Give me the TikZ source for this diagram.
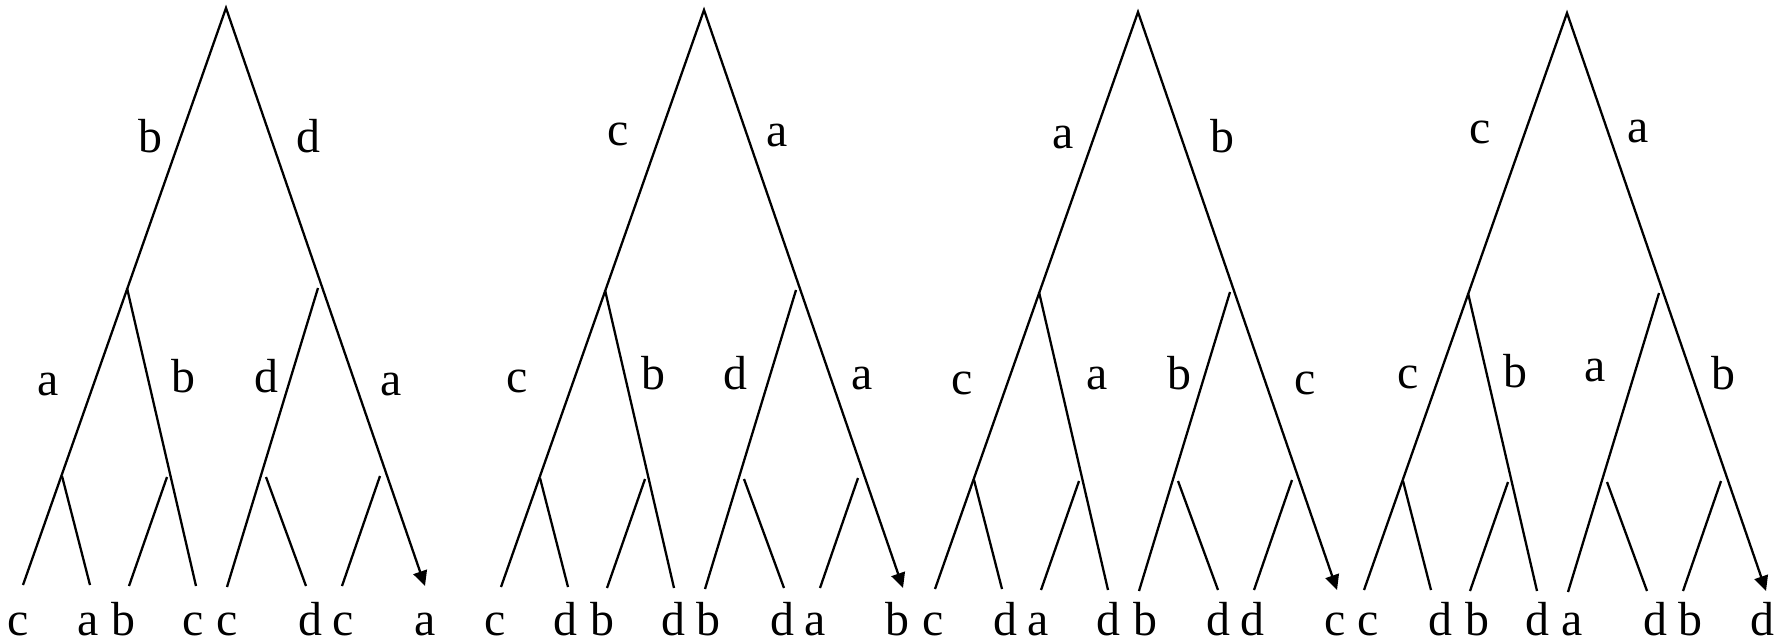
\documentclass[tikz,border=0pt]{standalone}
\usepackage{fontspec}
\setmainfont{Liberation Serif}
\usetikzlibrary{arrows.meta}

\begin{document}
\begin{tikzpicture}[x=0.01cm,y=-0.01cm,
    edge/.style={line width=0.65pt},
    lbl/.style={font=\fontsize{13.6}{16}\selectfont,inner sep=0pt},
    >={Triangle[length=1.5mm,width=1.4mm]}]
  \useasboundingbox (0,0) rectangle (1785,642);
  % four trees, same shape, own labels
  \foreach \t/\ox/\dy/\edges/\leaves in {
      1/23/0/{b/150/136,d/308/136,a/48/385,b/183/376,d/266/376,a/391/385}/{c/18,a/88,b/123,c/193,c/227,d/310,c/343,a/425},
      2/501/2/{c/618/134,a/777/136,c/517/381,b/653/373,d/735/373,a/862/379}/{c/495,d/565,b/602,d/673,b/708,d/782,a/815,b/897},
      3/935/4/{a/1063/138,b/1222/136,c/962/383,a/1097/379,b/1179/373,c/1305/383}/{c/933,d/1005,a/1038,d/1108,b/1145,d/1218,d/1252,c/1335},
      4/1364/5/{c/1480/132,a/1638/132,c/1408/377,b/1515/371,a/1595/371,b/1723/373}/{c/1368,d/1440,b/1477,d/1537,a/1572,d/1655,b/1690,d/1762}}{
    \begin{scope}[shift={(\ox,\dy)}]
      \coordinate (root\t) at (203,8);
      \coordinate (lleaf\t) at (0,585);
      \coordinate (rtip\t) at (402,586);
      \coordinate (lmid\t) at (104,288);
      \coordinate (lsub\t) at (39,476);
      \coordinate (lsubend\t) at (67,585);
      \coordinate (lin\t) at (173,586);
      \coordinate (linsub\t) at (144,477);
      \coordinate (linsubend\t) at (106,586);
      \coordinate (rmid\t) at (295,288);
      \coordinate (rin\t) at (204,587);
      \coordinate (rinsub\t) at (243,477);
      \coordinate (rinsubend\t) at (283,586);
      \coordinate (rsub\t) at (357,476);
      \coordinate (rsubend\t) at (319,586);
    \end{scope}
    \draw[edge,->] (lleaf\t) -- (root\t) -- (rtip\t);
    \draw[edge] (lmid\t) -- (lin\t);
    \draw[edge] (lsub\t) -- (lsubend\t);
    \draw[edge] (linsub\t) -- (linsubend\t);
    \draw[edge] (rmid\t) -- (rin\t);
    \draw[edge] (rinsub\t) -- (rinsubend\t);
    \draw[edge] (rsub\t) -- (rsubend\t);
    \foreach \e/\ex/\ey [count=\i] in \edges
      \node[lbl] (e\t\i) at (\ex,\ey) {\e};
    \foreach \l/\lx [count=\i] in \leaves
      \node[lbl,anchor=base] (l\t\i) at (\lx,635) {\l};
  }
\end{tikzpicture}
\end{document}
